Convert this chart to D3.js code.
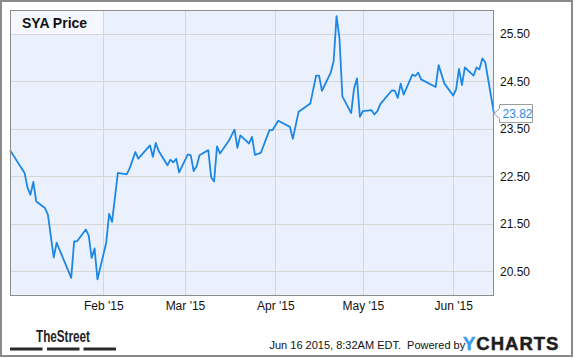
<!DOCTYPE html>
<html><head><meta charset="utf-8">
<script src="https://cdn.jsdelivr.net/npm/d3@7"></script>
<style>
html,body{margin:0;padding:0;background:#fff;}
svg{display:block;font-family:"Liberation Sans",Arial,sans-serif;}
</style></head>
<body>
<script>
const title = "SYA Price";
const dates = ["2014-12-31","2015-01-05","2015-01-06","2015-01-07","2015-01-08","2015-01-09","2015-01-12","2015-01-13","2015-01-15","2015-01-16",
"2015-01-21","2015-01-22","2015-01-23","2015-01-26","2015-01-27","2015-01-28","2015-01-29","2015-01-30","2015-02-02","2015-02-03",
"2015-02-04","2015-02-06","2015-02-09","2015-02-10","2015-02-12","2015-02-13","2015-02-17","2015-02-18","2015-02-19","2015-02-20",
"2015-02-23","2015-02-24","2015-02-25","2015-02-26","2015-02-27","2015-03-02","2015-03-03","2015-03-04","2015-03-05","2015-03-06",
"2015-03-09","2015-03-10","2015-03-11","2015-03-12","2015-03-13","2015-03-16","2015-03-18","2015-03-19","2015-03-20","2015-03-23",
"2015-03-24","2015-03-25","2015-03-27","2015-03-30","2015-03-31","2015-04-02","2015-04-06","2015-04-07","2015-04-09","2015-04-13",
"2015-04-15","2015-04-16","2015-04-17","2015-04-20","2015-04-21","2015-04-22","2015-04-23","2015-04-24","2015-04-27","2015-04-28",
"2015-04-29","2015-04-30","2015-05-01","2015-05-04","2015-05-05","2015-05-06","2015-05-07","2015-05-11","2015-05-12","2015-05-13",
"2015-05-14","2015-05-15","2015-05-18","2015-05-19","2015-05-20","2015-05-21","2015-05-26","2015-05-27","2015-05-29","2015-06-01",
"2015-06-02","2015-06-03","2015-06-04","2015-06-05","2015-06-08","2015-06-09","2015-06-10","2015-06-11","2015-06-12","2015-06-15"];
const prices = [23.05,22.57,22.26,22.11,22.38,21.97,21.83,21.69,20.79,21.10,
20.36,21.13,21.13,21.38,21.25,20.78,20.98,20.33,21.10,21.71,
21.54,22.57,22.54,22.66,23.01,22.87,23.15,22.91,23.20,23.03,
22.73,22.85,22.79,22.87,22.58,22.96,22.94,22.61,22.71,22.94,
23.05,22.48,22.39,23.13,22.98,23.24,23.48,23.10,23.36,23.19,
23.33,22.95,22.99,23.47,23.47,23.67,23.54,23.29,23.86,24.03,
24.62,24.62,24.30,24.68,24.92,25.87,25.41,24.18,23.83,24.35,
24.56,23.75,23.87,23.89,23.80,23.87,24.02,24.31,24.30,24.15,
24.45,24.22,24.64,24.61,24.68,24.54,24.38,24.84,24.45,24.20,
24.33,24.76,24.42,24.79,24.62,24.79,24.75,24.98,24.90,23.82];
const yTicks = [20.5, 21.5, 22.5, 23.5, 24.5, 25.5];
const xTicks = ["2015-02-01","2015-03-01","2015-04-01","2015-05-01","2015-06-01"];
const lastLabel = "23.82";
const footerText = "Jun 16 2015, 8:32AM EDT.  Powered by";

const W = 575, H = 358;
const P = {l:10, t:10, r:494, b:295};
const parse = d3.timeParse("%Y-%m-%d");
const data = dates.map((d,i)=>({date:parse(d), v:prices[i]}));

const x = d3.scaleTime().domain([parse("2014-12-31"), parse("2015-06-15")]).range([P.l, P.r]);
const y = d3.scaleLinear().domain([20, 26]).range([P.b, P.t]);

const svg = d3.select("body").append("svg").attr("width", W).attr("height", H);

// outer frame
svg.append("rect").attr("x",1).attr("y",1).attr("width",571).attr("height",355)
  .attr("fill","#fff").attr("stroke","#8a8a8a").attr("stroke-width",2);

// plot background
svg.append("rect").attr("x",P.l).attr("y",P.t).attr("width",P.r-P.l).attr("height",P.b-P.t)
  .attr("fill","#eaf1fc");

// gridlines
svg.append("g").selectAll("line").data(yTicks).join("line")
  .attr("x1",P.l).attr("x2",P.r).attr("y1",d=>Math.round(y(d))+0.5).attr("y2",d=>Math.round(y(d))+0.5)
  .attr("stroke","#d6d6d6").attr("stroke-width",1);
svg.append("g").selectAll("line").data(xTicks).join("line")
  .attr("y1",P.t).attr("y2",P.b).attr("x1",d=>Math.round(x(parse(d)))+0.5).attr("x2",d=>Math.round(x(parse(d)))+0.5)
  .attr("stroke","#d6d6d6").attr("stroke-width",1);

// title box
svg.append("rect").attr("x",P.l).attr("y",P.t).attr("width",Math.round(x(parse(xTicks[0])))-P.l).attr("height",Math.round(y(25.5))-P.t)
  .attr("fill","#f4f8fe");
svg.append("text").attr("x",22).attr("y",28).attr("font-size",14).attr("font-weight","bold")
  .attr("fill","#111").text(title);

// line
const line = d3.line().x(d=>x(d.date)).y(d=>y(d.v));
svg.append("path").datum(data).attr("d",line).attr("fill","none")
  .attr("stroke","#1d87e4").attr("stroke-width",1.8).attr("stroke-linejoin","round");

// plot border
svg.append("rect").attr("x",P.l+0.5).attr("y",P.t+0.5).attr("width",P.r-P.l-1).attr("height",P.b-P.t)
  .attr("fill","none").attr("stroke","#8c8c8c").attr("stroke-width",1);

// axes
const yAxis = d3.axisRight(y).tickValues(yTicks).tickSize(0).tickPadding(6).tickFormat(d3.format(".2f"));
const gy = svg.append("g").attr("transform",`translate(${P.r},0)`).call(yAxis);
gy.select(".domain").remove();
gy.selectAll("text").attr("font-size",12).attr("fill","#111").attr("font-family","Liberation Sans, Arial, sans-serif");

const xAxis = d3.axisBottom(x).tickValues(xTicks.map(parse)).tickSize(0).tickPadding(6).tickFormat(d3.timeFormat("%b '%y"));
const gx = svg.append("g").attr("transform",`translate(0,${P.b})`).call(xAxis);
gx.select(".domain").remove();
gx.selectAll("text").attr("font-size",12).attr("fill","#111").attr("font-family","Liberation Sans, Arial, sans-serif");

// last value label
const last = data[data.length-1];
const lx = x(last.date), ly = y(last.v);
const bx = lx+5.5, bw = 33, bh = 18;
svg.append("path")
  .attr("d",`M${lx},${ly} L${bx},${ly-5} L${bx},${ly-bh/2} L${bx+bw},${ly-bh/2} L${bx+bw},${ly+bh/2} L${bx},${ly+bh/2} L${bx},${ly+5} Z`)
  .attr("fill","#fff").attr("stroke","#9a9a9a").attr("stroke-width",1);
svg.append("text").attr("x",bx+3).attr("y",ly).attr("dy","0.36em").attr("font-size",12)
  .attr("fill","#2a8ae2").text(lastLabel);

// footer: TheStreet
svg.append("text").attr("x",36).attr("y",341.5).attr("font-size",16.5).attr("font-weight","bold")
  .attr("font-family","Liberation Sans Narrow, Arial Narrow, sans-serif").attr("textLength",54)
  .attr("lengthAdjust","spacingAndGlyphs").attr("fill","#222").text("TheStreet");
svg.append("g").selectAll("rect").data([10,47,83.5]).join("rect")
  .attr("x",d=>d).attr("y",347.5).attr("width",32.5).attr("height",3).attr("fill","#2a2a2a");

// footer text
svg.append("text").attr("x",269.5).attr("y",349).attr("font-size",11).attr("fill","#111")
  .attr("xml:space","preserve").style("white-space","pre").text(footerText);

// YCHARTS logo
const logo = svg.append("text").attr("x",463).attr("y",350).attr("font-size",18.5).attr("font-weight","900")
  .attr("letter-spacing",1.0).attr("stroke-width",0.5);
logo.append("tspan").attr("fill","#3aa0e6").attr("stroke","#3aa0e6").text("Y");
logo.append("tspan").attr("fill","#1e1e1e").attr("stroke","#1e1e1e").text("CHARTS");
</script>
</body></html>
